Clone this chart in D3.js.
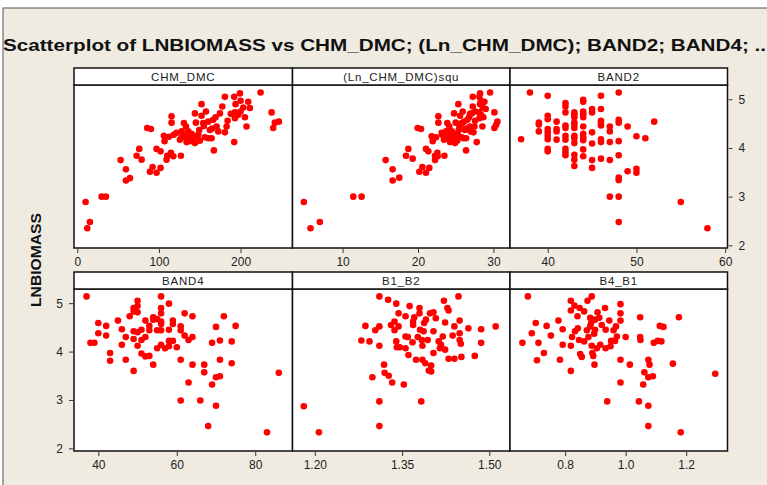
<!DOCTYPE html>
<html lang="en">
<head>
  <meta charset="UTF-8">
  <title>Scatterplot of LNBIOMASS</title>
  <script src="https://d3js.org/d3.v7.min.js"></script>
  <style>
    body {
      margin: 0;
      background: #fff;
      font-family: "Liberation Sans", Arial, sans-serif;
    }
    svg { display: block; }
    .tick text { font-size: 12px; fill: #222; }
    .strip text { font-size: 11.5px; fill: #222; }
  </style>
</head>
<body>
  <svg width="767" height="485"></svg>

  <script>
    // facet titles and ticks
    const panelTitles = ["CHM_DMC", "(Ln_CHM_DMC)squ", "BAND2", "BAND4", "B1_B2", "B4_B1"];
    const xTicks = [[0, 100, 200], [10, 20, 30], [40, 50, 60], [40, 60, 80], [1.20, 1.35, 1.50], [0.8, 1.0, 1.2]];
    const xFormats = ["d", "d", "d", "d", ".2f", ".1f"];
    const yTicks = [2, 3, 4, 5];

    // [x, LNBIOMASS] pairs
    const chmDmc = [
      [10.2,2.89],[12.2,2.35],[15.5,2.48],[29.8,3.00],[35.1,3.00],[53.1,3.75],[59.6,3.56],[59.6,3.33],
      [64.5,3.38],[72.7,3.84],[75.9,3.98],[78.8,3.76],[85.7,4.41],[90.2,4.39],[89.0,3.51],[92.2,3.61],
      [97.1,3.49],[97.1,3.98],[102,3.59],[102,3.93],[106.1,4.25],[106.9,4.14],[109.4,3.76],[110.2,3.84],
      [112.2,4.23],[114.7,3.90],[115.5,4.65],[115.5,4.52],[117.6,3.83],[126.9,3.84],[121.6,4.31],[125.7,4.17],
      [127.8,4.34],[130.6,4.51],[131.8,4.24],[133.1,4.44],[133.9,4.12],[135.9,4.34],[136.3,4.20],[138,4.14],
      [140,4.29],[144.1,4.71],[145.3,4.52],[144.1,4.10],[146.1,4.24],[148.2,4.27],[149.4,4.37],[152.2,4.90],
      [152.2,4.66],[154.3,4.51],[157.6,4.75],[156.3,4.22],[160.4,4.54],[162.4,4.37],[160.4,4.20],[164.5,4.20],
      [167.3,3.95],[166.5,4.58],[169.4,4.63],[170.6,4.44],[172.7,4.34],[174.7,4.71],[177.6,4.85],[180.8,4.32],
      [180.8,5.05],[182.9,4.44],[184.1,4.56],[192.2,5.05],[193.9,4.90],[193.1,4.73],[193.1,4.61],[192.2,4.12],
      [197.1,4.68],[199.2,5.12],[200,4.97],[203.3,4.83],[205.3,4.63],[207.3,4.44],[209.4,4.95],[211.4,4.82],
      [224.5,5.14],[238,4.73],[240,4.41],[242,4.52],[246.9,4.54],[135,4.28],[142,4.18],[128,4.22],
      [150,4.15],[118,4.27],[155,4.45],[188,4.70],[200,4.75],[165,4.40]
    ];
    const lnChmDmcSqu = [
      [4.87,2.89],[5.75,2.35],[6.99,2.48],[11.42,3.00],[12.52,3.00],[15.71,3.75],[16.64,3.56],[16.64,3.33],
      [17.52,3.39],[18.41,3.84],[18.72,3.98],[19.29,3.78],[19.96,4.41],[20.40,4.39],[20.18,3.51],[20.58,3.61],
      [21.06,3.49],[21.06,3.98],[21.50,3.59],[21.37,3.93],[21.81,4.24],[21.95,4.14],[22.26,3.75],[22.26,3.84],
      [22.39,4.22],[22.57,3.90],[22.70,4.65],[22.70,4.52],[22.61,3.83],[23.50,3.84],[23.14,4.31],[23.45,4.17],
      [23.72,4.34],[23.89,4.51],[24.03,4.24],[24.16,4.44],[24.25,4.12],[24.47,4.34],[24.56,4.20],[24.69,4.14],
      [24.82,4.29],[24.78,4.71],[25.00,4.52],[24.91,4.10],[25.13,4.24],[25.27,4.27],[25.40,4.37],[25.35,4.90],
      [25.58,4.66],[25.80,4.51],[25.93,4.75],[25.80,4.22],[26.11,4.54],[26.24,4.37],[26.02,4.20],[26.37,4.20],
      [26.37,3.95],[26.55,4.58],[26.77,4.63],[26.90,4.44],[26.99,4.34],[27.12,4.71],[27.26,4.85],[27.35,4.32],
      [27.26,5.05],[27.48,4.44],[27.57,4.56],[28.14,5.05],[28.23,4.90],[28.14,4.73],[28.14,4.61],[27.79,4.12],
      [28.36,4.68],[28.23,5.12],[28.32,4.97],[28.58,4.83],[28.67,4.63],[28.54,4.44],[28.81,4.95],[28.98,4.80],
      [29.56,5.14],[30.13,4.73],[30.13,4.41],[30.35,4.47],[30.53,4.54],[24.3,4.28],[24.8,4.18],[23.9,4.22],
      [25.2,4.15],[23.2,4.27],[25.5,4.45],[26.9,4.70],[27.6,4.75],[26.3,4.40]
    ];
    const band2 = [
      [37,4.18],[38,5.14],[39,4.52],[39,4.48],[39,4.34],
      [40,5.07],[40,4.66],[40,4.59],[40,4.39],[40,4.32],[40,4.25],[40,4.18],[40,3.98],[40,3.93],
      [41,4.54],[41,4.39],[41,4.34],[41,4.17],
      [42,4.92],[42,4.85],[42,4.73],[42,4.46],[42,4.41],[42,4.25],[42,4.17],[42,3.98],[42,3.91],[42,3.85],
      [43,4.73],[43,4.68],[43,4.63],[43,4.52],[43,4.48],[43,4.41],[43,4.25],[43,4.20],[43,4.10],[43,3.86],[43,3.76],[43,3.63],
      [44,4.99],[44,4.95],[44,4.75],[44,4.69],[44,4.63],[44,4.44],[44,4.29],[44,4.22],[44,4.16],[44,3.97],[44,3.83],
      [45,4.80],[45,4.73],[45,4.32],[45,4.09],[45,3.75],[45,3.59],
      [46,5.07],[46,4.80],[46,4.56],[46,4.51],[46,4.46],[46,4.18],[46,4.12],[46,3.78],
      [47,4.44],[47,4.34],[47,4.12],[47,3.75],[47,3.00],
      [48,5.14],[48,4.58],[48,4.52],[48,4.14],[48,3.85],[48,3.39],[48,3.34],[48,3.00],[48,2.48],
      [49,4.44],[49,3.52],[50,4.24],[50,3.57],[50,3.49],[51,4.20],[52,4.54],[55,2.89],[58,2.35]
    ];
    const band4 = [
      [37,5.14],[38,4.18],[39,4.18],[40,4.59],[40,4.38],[42,4.53],[42,4.33],[43,3.97],[43,3.81],[45,4.64],
      [46,4.46],[46,4.14],[47,3.83],[47,4.30],[48,4.73],[49,4.90],[49,4.83],[49,4.42],[49,4.26],[49,3.60],
      [50,5.05],[50,4.94],[50,4.81],[50,4.40],[50,4.12],[51,4.45],[51,3.96],[51,4.24],[52,4.64],[52,4.30],
      [52,3.90],[53,4.53],[53,4.44],[53,3.91],[54,4.71],[54,4.66],[54,3.73],[55,4.67],[55,4.44],[55,4.07],
      [56,5.14],[56,4.90],[56,4.79],[56,4.62],[56,4.57],[56,4.44],[56,4.14],[57,4.07],[58,4.99],[58,4.45],
      [58,4.22],[58,4.11],[59,4.64],[59,4.57],[59,4.22],[60,4.09],[61,4.52],[61,4.44],[61,3.83],[61,2.99],
      [62,4.79],[62,4.33],[63,4.24],[63,3.36],[64,4.73],[64,4.30],[64,3.73],[66,2.99],[67,3.73],[67,3.57],
      [68,2.46],[69,4.18],[69,3.32],[70,4.51],[70,2.88],[70,3.47],[71,4.23],[71,3.83],[71,3.49],[72,4.73],
      [74,4.21],[74,3.76],[75,4.53],[83,2.33],[86,3.56]
    ];
    const b1B2 = [
      [1.181,2.87],[1.207,2.33],[1.280,4.23],[1.287,4.53],[1.294,4.21],[1.299,3.47],[1.304,4.44],[1.311,5.14],
      [1.311,4.52],[1.311,4.12],[1.311,2.97],[1.311,2.46],[1.319,3.73],[1.320,3.56],[1.326,5.07],[1.327,3.50],
      [1.331,4.55],[1.333,3.36],[1.337,4.62],[1.337,4.44],[1.340,4.99],[1.340,4.21],[1.341,4.09],[1.344,4.79],
      [1.344,4.52],[1.346,4.09],[1.353,3.32],[1.356,4.73],[1.356,4.31],[1.356,4.07],[1.360,4.30],[1.361,3.93],
      [1.363,4.94],[1.368,4.19],[1.369,4.62],[1.369,4.55],[1.371,4.71],[1.374,3.83],[1.377,4.30],[1.380,4.90],
      [1.380,4.79],[1.381,4.45],[1.383,2.97],[1.384,4.24],[1.385,4.12],[1.385,3.83],[1.387,4.42],[1.388,4.59],
      [1.390,3.76],[1.391,4.66],[1.394,4.24],[1.396,3.61],[1.398,4.79],[1.400,3.71],[1.400,3.59],[1.404,4.81],
      [1.404,4.42],[1.404,3.97],[1.408,4.69],[1.413,4.21],[1.415,4.07],[1.417,4.14],[1.420,4.31],[1.422,5.05],
      [1.424,4.60],[1.424,4.04],[1.428,4.90],[1.430,4.85],[1.430,3.85],[1.437,4.33],[1.440,4.52],[1.440,3.85],
      [1.447,5.14],[1.449,4.64],[1.449,4.38],[1.449,4.24],[1.451,4.16],[1.452,3.89],[1.464,4.48],[1.475,3.91],
      [1.486,4.46],[1.486,4.18],[1.511,4.52]
    ];
    const b4B1 = [
      [0.659,4.18],[0.677,5.14],[0.690,4.38],[0.703,4.59],[0.707,3.82],[0.712,4.18],[0.730,3.97],[0.739,4.53],
      [0.753,4.33],[0.778,4.64],[0.783,3.83],[0.792,4.46],[0.792,4.14],[0.819,5.05],[0.819,4.85],[0.819,4.12],
      [0.819,3.60],[0.823,4.30],[0.831,4.95],[0.833,4.42],[0.841,4.73],[0.842,4.48],[0.846,4.24],[0.848,4.90],
      [0.850,3.95],[0.855,3.89],[0.863,4.83],[0.863,4.21],[0.872,4.44],[0.874,5.05],[0.877,4.30],[0.883,4.70],
      [0.883,4.52],[0.886,4.59],[0.888,5.14],[0.888,4.12],[0.890,3.97],[0.893,3.91],[0.896,4.37],[0.897,3.73],
      [0.899,4.66],[0.899,4.45],[0.905,4.07],[0.907,4.81],[0.913,4.70],[0.916,4.14],[0.921,4.55],[0.932,4.90],
      [0.934,4.45],[0.934,4.07],[0.939,2.97],[0.946,4.64],[0.950,4.11],[0.952,4.22],[0.960,4.44],[0.965,4.22],
      [0.968,4.52],[0.971,4.31],[0.983,4.98],[0.983,4.79],[0.983,4.64],[0.983,3.83],[0.983,3.36],[1.000,4.30],
      [1.014,3.73],[1.044,2.97],[1.048,4.71],[1.048,4.30],[1.049,4.24],[1.058,3.32],[1.062,3.57],[1.075,3.83],
      [1.075,3.47],[1.075,2.88],[1.075,2.46],[1.079,3.73],[1.090,3.49],[1.093,4.18],[1.106,4.22],[1.113,4.53],
      [1.118,4.21],[1.125,4.51],[1.156,3.75],[1.176,4.71],[1.182,2.33],[1.296,3.54]
    ];

    const panelData = [chmDmc, lnChmDmcSqu, band2, band4, b1B2, b4B1];
    const xDomains = [[-4, 263.6], [3.36, 32.2], [35.75, 60.26], [33.8, 89.5], [1.1616, 1.5356], [0.618, 1.3365]];

    const W = 767, H = 485;
    const colX = [74, 292.5, 510, 727.5];
    const rows = [
      { stripTop: 68, top: 85, bottom: 248 },
      { stripTop: 272, top: 289, bottom: 451 }
    ];
    const yDomain = [1.945, 5.293];

    const svg = d3.select("svg");

    // window frame
    svg.append("rect").attr("width", W).attr("height", H).attr("fill", "#fff");
    svg.append("rect").attr("x", 3).attr("y", 8).attr("width", W).attr("height", H)
      .attr("fill", "#efebe1").attr("stroke", "#555").attr("stroke-width", 1);

    svg.append("text")
      .attr("x", 3).attr("y", 51)
      .attr("font-size", 16.5).attr("font-weight", "bold").attr("fill", "#111")
      .attr("textLength", 763).attr("lengthAdjust", "spacingAndGlyphs")
      .text("Scatterplot of LNBIOMASS vs CHM_DMC; (Ln_CHM_DMC); BAND2; BAND4; ..");

    svg.append("text")
      .attr("transform", "translate(41,260) rotate(-90)")
      .attr("text-anchor", "middle")
      .attr("font-size", 15).attr("font-weight", "bold").attr("fill", "#111")
      .attr("textLength", 94).attr("lengthAdjust", "spacingAndGlyphs")
      .text("LNBIOMASS");

    panelData.forEach((pts, i) => {
      const r = rows[Math.floor(i / 3)];
      const c = i % 3;
      const x0 = colX[c], x1 = colX[c + 1];

      const x = d3.scaleLinear().domain(xDomains[i]).range([x0, x1]);
      const y = d3.scaleLinear().domain(yDomain).range([r.bottom, r.top]);

      const g = svg.append("g");

      g.append("rect")
        .attr("x", x0).attr("y", r.top).attr("width", x1 - x0).attr("height", r.bottom - r.top)
        .attr("fill", "#fff");

      g.append("g")
        .selectAll("circle")
        .data(pts)
        .join("circle")
        .attr("cx", d => x(d[0]))
        .attr("cy", d => y(d[1]))
        .attr("r", 3.3)
        .attr("fill", "#ff0000");

      g.append("rect")
        .attr("x", x0).attr("y", r.top).attr("width", x1 - x0).attr("height", r.bottom - r.top)
        .attr("fill", "none").attr("stroke", "#111").attr("stroke-width", 1.5);

      const strip = g.append("g").attr("class", "strip");
      strip.append("rect")
        .attr("x", x0).attr("y", r.stripTop).attr("width", x1 - x0).attr("height", r.top - r.stripTop)
        .attr("fill", "#fff").attr("stroke", "#111").attr("stroke-width", 1.5);
      strip.append("text")
        .attr("x", (x0 + x1) / 2).attr("y", r.top - 4.5)
        .attr("text-anchor", "middle")
        .attr("letter-spacing", 0.8)
        .text(panelTitles[i]);

      const xAxis = g.append("g")
        .attr("transform", `translate(0,${r.bottom + 1})`)
        .call(d3.axisBottom(x).tickValues(xTicks[i]).tickFormat(d3.format(xFormats[i])).tickSize(4).tickPadding(4));
      xAxis.select(".domain").remove();

      // y axis: right side on top row, left side on bottom row
      if (i === 2) {
        const yAxis = g.append("g")
          .attr("transform", `translate(${x1 + 1},0)`)
          .call(d3.axisRight(y).tickValues(yTicks).tickFormat(d3.format("d")).tickSize(4).tickPadding(6));
        yAxis.select(".domain").remove();
      }
      if (i === 3) {
        const yAxis = g.append("g")
          .attr("transform", `translate(${x0 - 1},0)`)
          .call(d3.axisLeft(y).tickValues(yTicks).tickFormat(d3.format("d")).tickSize(4).tickPadding(6));
        yAxis.select(".domain").remove();
      }
    });

    svg.selectAll(".tick line").attr("stroke", "#333");
  </script>
</body>
</html>
